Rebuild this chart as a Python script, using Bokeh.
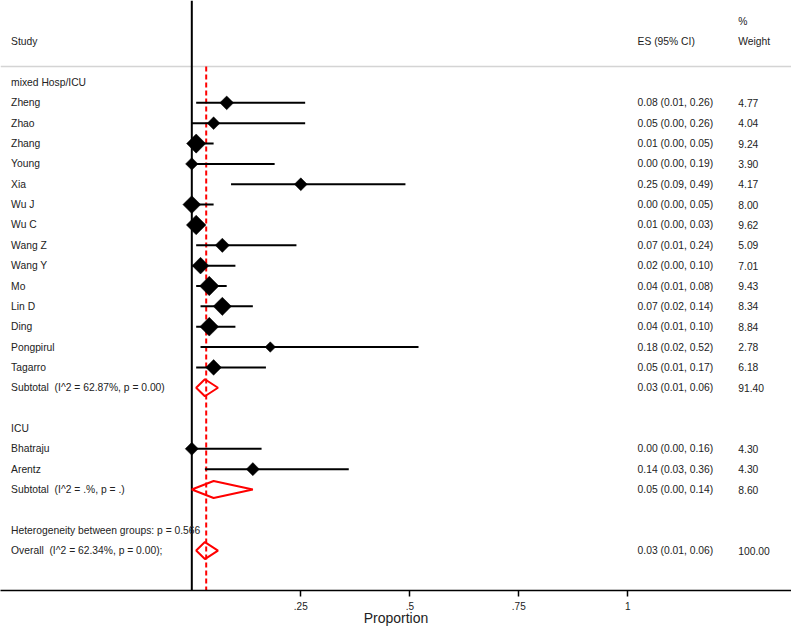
import math
from bokeh.plotting import figure
from bokeh.models import Range1d, FixedTicker
from bokeh.core.properties import value
from bokeh.embed import file_html
from bokeh.resources import INLINE

# ---------------- data ----------------
g1_label = "mixed Hosp/ICU"
g1_names = ["Zheng", "Zhao", "Zhang", "Young", "Xia", "Wu J", "Wu C", "Wang Z",
            "Wang Y", "Mo", "Lin D", "Ding", "Pongpirul", "Tagarro"]
g1_es = [0.08, 0.05, 0.01, 0.00, 0.25, 0.00, 0.01, 0.07, 0.02, 0.04, 0.07, 0.04, 0.18, 0.05]
g1_lo = [0.01, 0.00, 0.00, 0.00, 0.09, 0.00, 0.00, 0.01, 0.00, 0.01, 0.02, 0.01, 0.02, 0.01]
g1_hi = [0.26, 0.26, 0.05, 0.19, 0.49, 0.05, 0.03, 0.24, 0.10, 0.08, 0.14, 0.10, 0.52, 0.17]
g1_w = [4.77, 4.04, 9.24, 3.90, 4.17, 8.00, 9.62, 5.09, 7.01, 9.43, 8.34, 8.84, 2.78, 6.18]
g1_sub = (0.03, 0.01, 0.06, 91.40)
g1_sub_label = "Subtotal \u00a0(I^2 = 62.87%, p = 0.00)"

g2_label = "ICU"
g2_names = ["Bhatraju", "Arentz"]
g2_es = [0.00, 0.14]
g2_lo = [0.00, 0.03]
g2_hi = [0.16, 0.36]
g2_w = [4.30, 4.30]
g2_sub = (0.05, 0.00, 0.14, 8.60)
g2_sub_label = "Subtotal \u00a0(I^2 = .%, p = .)"

het_label = "Heterogeneity between groups: p = 0.566"
overall = (0.03, 0.01, 0.06, 100.00)
overall_label = "Overall \u00a0(I^2 = 62.34%, p = 0.00);"
overall_line = 0.033

ticks = [0.25, 0.5, 0.75, 1.0]
tick_labels = [".25", ".5", ".75", "1"]
x_title = "Proportion"

# ---------------- layout helpers ----------------
FONT = value("Liberation Sans")
FS = "10.3px"
TXT = "#222222"
X0, X1 = -0.4388, 1.3755
Y_TOP, Y_BOT = 0, 590
ROW0, STEP = 82, 20.35
ES_X = 1.0225
W_X = 1.2535
LEFT_X = -0.4145

def ry(i):
    return ROW0 + STEP * i

p = figure(width=791, height=631, output_backend="svg", toolbar_location=None,
           x_range=Range1d(X0, X1), y_range=Range1d(Y_BOT, Y_TOP),
           y_axis_location=None, min_border=0, min_border_left=0, min_border_right=0,
           min_border_top=0, min_border_bottom=41, outline_line_color=None)
p.xgrid.visible = False
p.ygrid.visible = False

ax = p.xaxis[0]
ax.ticker = FixedTicker(ticks=ticks)
ax.major_label_overrides = {t: l for t, l in zip(ticks, tick_labels)}
ax.minor_tick_line_color = None
ax.major_tick_in = 0
ax.major_tick_out = 6
ax.major_tick_line_width = 1.5
ax.axis_line_width = 1.5
ax.major_label_text_font = "Liberation Sans"
ax.major_label_text_font_size = "10px"
ax.major_label_text_color = TXT
ax.major_label_standoff = 5
ax.axis_label = x_title
ax.axis_label_text_font = "Liberation Sans"
ax.axis_label_text_font_style = "normal"
ax.axis_label_text_font_size = "14px"
ax.axis_label_text_color = TXT
ax.axis_label_standoff = -3

# header separator and reference lines
p.segment(x0=[X0], y0=[66], x1=[X1], y1=[66], line_color="#d4d4d4", line_width=1.5)
p.segment(x0=[0], y0=[Y_TOP], x1=[0], y1=[Y_BOT], line_color="black", line_width=2)
p.segment(x0=[overall_line], y0=[66], x1=[overall_line], y1=[Y_BOT],
          line_color="red", line_width=2, line_dash="5 3")

# rows
left_txt, left_y = [], []
es_txt, w_txt, num_y = [], [], []
st_es, st_lo, st_hi, st_w, st_y = [], [], [], [], []
sub_diamonds = []

def add_group(start, label, names, es, lo, hi, w, sub, sub_label):
    left_txt.append(label); left_y.append(ry(start))
    for k in range(len(names)):
        y = ry(start + 1 + k)
        left_txt.append(names[k]); left_y.append(y)
        es_txt.append("%.2f (%.2f, %.2f)" % (es[k], lo[k], hi[k]))
        w_txt.append("%.2f" % w[k]); num_y.append(y)
        st_es.append(es[k]); st_lo.append(lo[k]); st_hi.append(hi[k]); st_w.append(w[k]); st_y.append(y)
    y = ry(start + 1 + len(names))
    left_txt.append(sub_label); left_y.append(y)
    es_txt.append("%.2f (%.2f, %.2f)" % sub[:3]); w_txt.append("%.2f" % sub[3]); num_y.append(y)
    sub_diamonds.append((sub, y))
    return start + len(names) + 3

nxt = add_group(0, g1_label, g1_names, g1_es, g1_lo, g1_hi, g1_w, g1_sub, g1_sub_label)
nxt = add_group(nxt, g2_label, g2_names, g2_es, g2_lo, g2_hi, g2_w, g2_sub, g2_sub_label)
left_txt.append(het_label); left_y.append(ry(nxt))
yo = ry(nxt + 1)
left_txt.append(overall_label); left_y.append(yo)
es_txt.append("%.2f (%.2f, %.2f)" % overall[:3]); w_txt.append("%.2f" % overall[3]); num_y.append(yo)
sub_diamonds.append((overall, yo))

# CI lines and study markers
p.segment(x0=st_lo, y0=st_y, x1=st_hi, y1=st_y, line_color="black", line_width=2)
sizes = [6.3 * math.sqrt(w) / math.sqrt(2) for w in st_w]
p.scatter(x=st_es, y=st_y, size=sizes, marker="square", angle=math.pi / 4,
          fill_color="black", line_color="black", line_width=0.5)

# pooled diamonds (outline)
H = 8.5
xs, ys = [], []
for (es, lo, hi, _), y in sub_diamonds:
    xs.append([lo, es, hi, es]); ys.append([y, y - H, y, y + H])
p.patches(xs=xs, ys=ys, fill_color=None, line_color="red", line_width=2)

# texts
p.text(x=[LEFT_X] * len(left_txt), y=left_y, text=left_txt, text_font=FONT,
       text_font_size=FS, text_baseline="middle", text_color=TXT)
p.text(x=[ES_X] * len(es_txt), y=num_y, text=es_txt, text_font=FONT,
       text_font_size=FS, text_baseline="middle", text_color=TXT)
p.text(x=[W_X] * len(w_txt), y=num_y, text=w_txt, text_font=FONT,
       text_font_size=FS, text_baseline="middle", text_color=TXT)

# header
p.text(x=[LEFT_X, ES_X, W_X, W_X], y=[41, 41, 41, 21],
       text=["Study", "ES (95% CI)", "Weight", "%"], text_font=FONT,
       text_font_size=FS, text_baseline="middle", text_color=TXT)

open("out.html", "w").write(file_html(p, INLINE))
